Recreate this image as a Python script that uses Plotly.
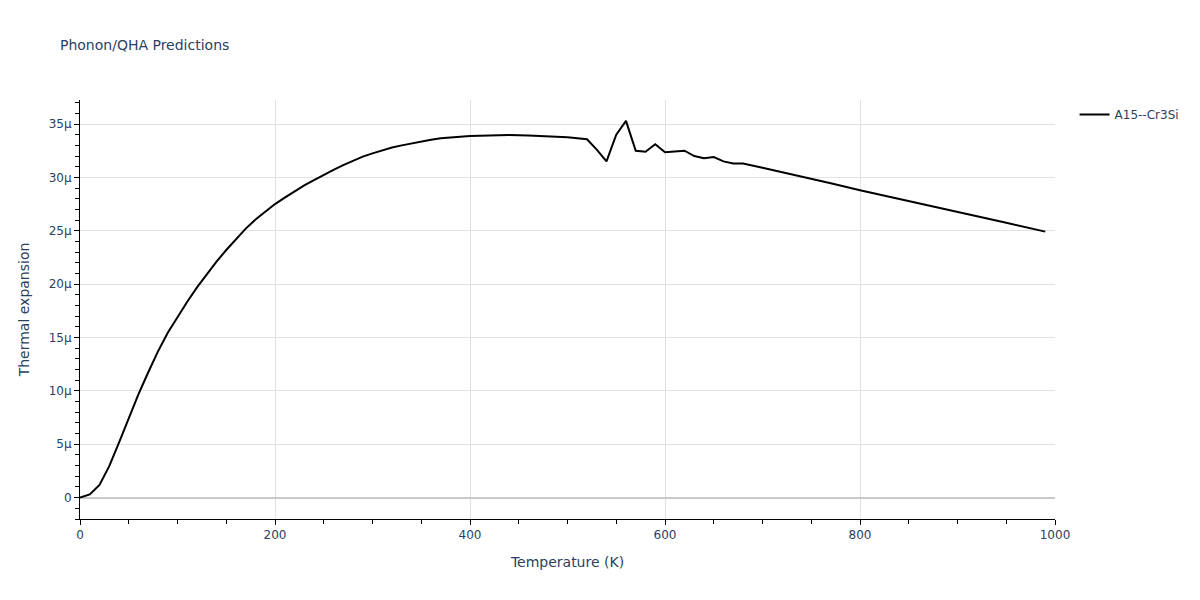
import plotly.graph_objects as go

temperature = [0, 10, 20, 30, 40, 50, 60, 70, 80, 90, 100, 110, 120, 130, 140, 150,
               160, 170, 180, 190, 200, 210, 220, 230, 240, 250, 260, 270, 280, 290,
               300, 310, 320, 330, 340, 350, 360, 370, 380, 390, 400, 420, 440, 460,
               480, 500, 520, 530, 540, 550, 560, 570, 580, 590, 600, 610, 620, 630,
               640, 650, 660, 670, 680, 700, 720, 740, 770, 800, 850, 900, 950, 990]
alpha_micro = [0.0, 0.3, 1.2, 2.95, 5.15, 7.4, 9.7, 11.75, 13.7, 15.45, 16.95, 18.35, 19.7,
               20.95, 22.1, 23.2, 24.25, 25.2, 26.05, 26.8, 27.5, 28.1, 28.7, 29.25,
               29.75, 30.25, 30.7, 31.15, 31.55, 31.95, 32.25, 32.55, 32.8, 33.0, 33.2,
               33.4, 33.53, 33.67, 33.75, 33.82, 33.87, 33.93, 33.97, 33.93, 33.85, 33.75,
               33.57, 32.6, 31.5, 34.0, 35.3, 32.5, 32.4, 33.1, 32.35, 32.4, 32.5, 32.0,
               31.8, 31.9, 31.5, 31.3, 31.3, 30.9, 30.5, 30.1, 29.45, 28.8, 27.8, 26.8,
               25.75, 24.92]
alpha = [v * 1e-6 for v in alpha_micro]

series_name = "A15--Cr3Si"

FONT = "Verdana, DejaVu Sans, sans-serif"
TXT = "#2a3f5f"

fig = go.Figure()
fig.add_trace(go.Scatter(x=temperature, y=alpha, mode="lines", name=series_name,
                         line=dict(color="black", width=2)))

axis_common = dict(
    showline=True, linecolor="black", linewidth=1,
    ticks="outside", ticklen=5, tickcolor="black",
    showgrid=True, gridcolor="#e1e1e1", gridwidth=1,
    tickfont=dict(color=TXT, size=12, family=FONT),
)

fig.update_layout(
    template="plotly_white",
    width=1184, height=584,
    title=dict(text="Phonon/QHA Predictions", x=0.0439, y=0.9366, yanchor="middle",
               xanchor="left", font=dict(size=14, color=TXT, family=FONT)),
    paper_bgcolor="white", plot_bgcolor="white",
    margin=dict(l=72, r=137, t=92, b=73, autoexpand=False),
    showlegend=True,
    legend=dict(xref="container", yref="container", x=0.9008, y=0.8425,
                xanchor="left", yanchor="top",
                font=dict(size=12, color=TXT, family=FONT)),
    font=dict(color=TXT, family=FONT),
)
fig.update_xaxes(
    title=dict(text="Temperature (K)", font=dict(size=14, color=TXT, family=FONT)),
    range=[0, 1000], dtick=200, tick0=0,
    zeroline=False,
    minor=dict(ticks="outside", ticklen=4, dtick=50, tickcolor="black", showgrid=False),
    **axis_common,
)
fig.update_yaxes(
    title=dict(text="Thermal expansion", standoff=15,
               font=dict(size=14, color=TXT, family=FONT)),
    range=[-2e-6, 37.25e-6], dtick=5e-6, tick0=0, exponentformat="SI",
    zeroline=True, zerolinecolor="#c8c8c8", zerolinewidth=2,
    minor=dict(ticks="outside", ticklen=4, dtick=1e-6, tickcolor="black", showgrid=False),
    **axis_common,
)

fig.write_html("out.html")
